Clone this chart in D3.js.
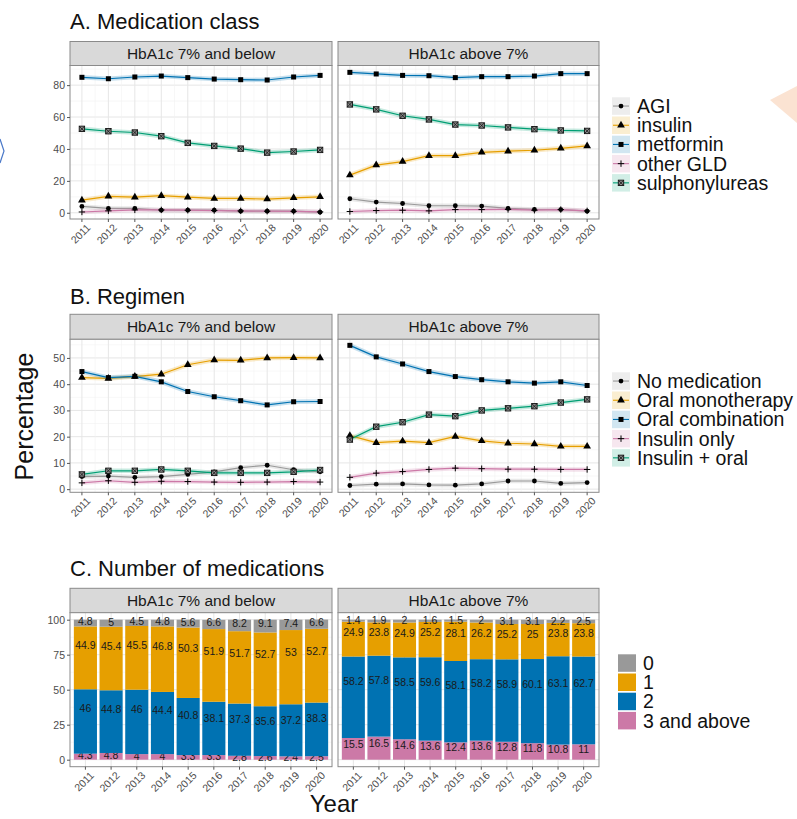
<!DOCTYPE html>
<html>
<head>
<meta charset="utf-8">
<script src="https://cdn.jsdelivr.net/npm/d3@7/dist/d3.min.js"></script>
<style>
  body { margin: 0; background: #fff; }
  svg { font-family: "Liberation Sans", Arial, Helvetica, sans-serif; }
</style>
</head>
<body>
<svg width="797" height="819"></svg>
<script>
const years = [2011, 2012, 2013, 2014, 2015, 2016, 2017, 2018, 2019, 2020];
const facets = ["HbA1c 7% and below", "HbA1c above 7%"];

// A. medication class (left = 7% and below, right = above 7%)
const classNames = ["AGI", "insulin", "metformin", "other GLD", "sulphonylureas"];
const agiLow = [4.0, 2.7, 2.7, 1.6, 1.6, 1.6, 1.0, 1.0, 1.0, 0.4];
const agiHigh = [8.8, 6.7, 5.8, 4.4, 4.4, 4.2, 2.7, 2.1, 2.0, 1.0];
const insulinLow = [7.9, 10.3, 9.8, 10.7, 9.8, 9.0, 9.0, 8.6, 9.4, 10.0];
const insulinHigh = [23.6, 29.9, 32.1, 35.8, 35.8, 37.9, 38.6, 39.2, 40.4, 41.9];
const metforminLow = [84.9, 84.0, 85.1, 85.7, 84.7, 83.8, 83.4, 83.2, 85.1, 86.1];
const metforminHigh = [88.0, 87.0, 86.1, 85.9, 84.7, 85.3, 85.3, 85.7, 87.2, 87.2];
const otherLow = [0.5, 1.2, 1.8, 1.8, 1.6, 1.4, 1.2, 1.0, 0.9, 0.6];
const otherHigh = [0.8, 1.4, 1.6, 1.2, 2.0, 2.0, 2.1, 1.6, 2.0, 1.2];
const sulphLow = [52.6, 51.1, 50.3, 48.0, 43.8, 41.9, 40.2, 37.7, 38.4, 39.4];
const sulphHigh = [67.9, 64.8, 60.8, 58.5, 55.3, 54.7, 53.5, 52.4, 51.6, 51.3];

// B. regimen
const regimenNames = ["No medication", "Oral monotherapy", "Oral combination", "Insulin only", "Insulin + oral"];
const noMedLow = [4.8, 5.0, 4.5, 4.8, 5.6, 6.6, 8.2, 9.1, 7.4, 6.6];
const noMedHigh = [1.4, 1.9, 2.0, 1.6, 1.5, 2.0, 3.1, 3.1, 2.2, 2.5];
const monoLow = [42.5, 42.2, 42.9, 43.8, 47.4, 49.2, 49.1, 50.0, 50.1, 50.0];
const monoHigh = [20.4, 17.7, 18.3, 17.7, 20.1, 18.4, 17.5, 17.2, 16.3, 16.3];
const comboLow = [44.8, 42.5, 43.0, 40.9, 37.2, 35.2, 33.7, 32.1, 33.3, 33.4];
const comboHigh = [54.8, 50.4, 47.7, 44.8, 42.9, 41.7, 40.9, 40.4, 40.9, 39.5];
const insOnlyLow = [2.4, 3.2, 2.6, 3.0, 2.9, 2.7, 2.6, 2.7, 2.9, 2.7];
const insOnlyHigh = [4.5, 6.1, 6.7, 7.5, 8.0, 7.8, 7.6, 7.6, 7.5, 7.5];
const insOralLow = [5.6, 7.0, 7.0, 7.5, 7.0, 6.2, 6.2, 6.2, 6.6, 7.3];
const insOralHigh = [18.9, 23.8, 25.5, 28.4, 27.8, 30.0, 30.8, 31.6, 33.0, 34.2];

// C. number of medications
const countNames = ["0", "1", "2", "3 and above"];
const zeroLow = [4.8, 5, 4.5, 4.8, 5.6, 6.6, 8.2, 9.1, 7.4, 6.6];
const oneLow = [44.9, 45.4, 45.5, 46.8, 50.3, 51.9, 51.7, 52.7, 53, 52.7];
const twoLow = [46, 44.8, 46, 44.4, 40.8, 38.1, 37.3, 35.6, 37.2, 38.3];
const threeLow = [4.3, 4.8, 4, 4, 3.3, 3.3, 2.8, 2.6, 2.4, 2.5];
const zeroHigh = [1.4, 1.9, 2, 1.6, 1.5, 2, 3.1, 3.1, 2.2, 2.5];
const oneHigh = [24.9, 23.8, 24.9, 25.2, 28.1, 26.2, 25.2, 25, 23.8, 23.8];
const twoHigh = [58.2, 57.8, 58.5, 59.6, 58.1, 58.2, 58.9, 60.1, 63.1, 62.7];
const threeHigh = [15.5, 16.5, 14.6, 13.6, 12.4, 13.6, 12.8, 11.8, 10.8, 11];

const lineColors = ["#999999", "#E69F00", "#0072B2", "#CC79A7", "#009E73"];
const shapes = ["circle", "triangle", "square", "plus", "squarex"];
const barColors = ["#999999", "#E69F00", "#0072B2", "#CC79A7"];

const svg = d3.select("svg");
const panelX = [[70, 332], [338, 599]];
const textCol = "#1a1a1a";
const axisCol = "#4d4d4d";

// page decorations from the slide behind the figure
svg.append("path").attr("d", "M0,139 L4,151 L0,163").attr("fill", "none")
  .attr("stroke", "#4a78c8").attr("stroke-width", 1.2);
svg.append("path").attr("d", "M797,86 L770,100 L797,123 Z").attr("fill", "#fbe3d2");

function drawShape(g, shape, x, y) {
  if (shape === "circle") {
    g.append("circle").attr("cx", x).attr("cy", y).attr("r", 2.4).attr("fill", "#000");
  } else if (shape === "triangle") {
    g.append("path").attr("d", d3.symbol(d3.symbolTriangle, 26)())
      .attr("transform", `translate(${x},${y})`).attr("fill", "#000");
  } else if (shape === "square") {
    g.append("rect").attr("x", x - 2.5).attr("y", y - 2.5).attr("width", 5).attr("height", 5).attr("fill", "#000");
  } else if (shape === "plus") {
    g.append("path").attr("d", `M${x - 3.2},${y}H${x + 3.2}M${x},${y - 3.2}V${y + 3.2}`)
      .attr("stroke", "#000").attr("stroke-width", 1);
  } else {
    g.append("rect").attr("x", x - 2.7).attr("y", y - 2.7).attr("width", 5.4).attr("height", 5.4)
      .attr("fill", "#8a8a8a").attr("stroke", "#111").attr("stroke-width", 0.9);
    g.append("path").attr("d", `M${x - 2.7},${y - 2.7}L${x + 2.7},${y + 2.7}M${x + 2.7},${y - 2.7}L${x - 2.7},${y + 2.7}`)
      .attr("stroke", "#111").attr("stroke-width", 0.8);
  }
}

function frame(cfg, i, y) {
  const [x0, x1] = panelX[i];
  // strip
  svg.append("rect").attr("x", x0).attr("y", cfg.stripTop).attr("width", x1 - x0)
    .attr("height", cfg.plotTop - cfg.stripTop).attr("fill", "#d9d9d9").attr("stroke", "#8a8a8a").attr("stroke-width", 1);
  svg.append("text").attr("x", (x0 + x1) / 2).attr("y", (cfg.stripTop + cfg.plotTop) / 2)
    .attr("dy", "0.36em").attr("text-anchor", "middle").attr("font-size", 15.5).attr("fill", textCol)
    .text(facets[i]);
  svg.append("rect").attr("x", x0).attr("y", cfg.plotTop).attr("width", x1 - x0)
    .attr("height", cfg.plotBottom - cfg.plotTop).attr("fill", "#fff");
  const grid = svg.append("g");
  grid.selectAll(".minor").data(cfg.yMinor).enter().append("line")
    .attr("x1", x0).attr("x2", x1).attr("y1", d => y(d)).attr("y2", d => y(d))
    .attr("stroke", "#f2f2f2").attr("stroke-width", 0.6);
  grid.selectAll(".major").data(cfg.yTicks).enter().append("line")
    .attr("x1", x0).attr("x2", x1).attr("y1", d => y(d)).attr("y2", d => y(d))
    .attr("stroke", "#e6e6e6").attr("stroke-width", 1);
  return grid;
}

function border(cfg, i) {
  const [x0, x1] = panelX[i];
  svg.append("rect").attr("x", x0).attr("y", cfg.plotTop).attr("width", x1 - x0)
    .attr("height", cfg.plotBottom - cfg.plotTop).attr("fill", "none").attr("stroke", "#8a8a8a").attr("stroke-width", 1);
}

function yAxis(cfg, y) {
  const x0 = panelX[0][0];
  const g = svg.append("g").attr("transform", `translate(${x0},0)`);
  g.call(d3.axisLeft(y).tickValues(cfg.yTicks).tickSize(3).tickPadding(2));
  g.select(".domain").remove();
  g.selectAll(".tick line").attr("stroke", "#555");
  g.selectAll(".tick text").attr("font-size", 10.5).attr("fill", axisCol).attr("font-family", null);
}

function xTicks(positions, cfg) {
  positions.forEach(p => {
    svg.append("line").attr("x1", p.x).attr("x2", p.x).attr("y1", cfg.plotBottom).attr("y2", cfg.plotBottom + 3)
      .attr("stroke", "#555");
    svg.append("text").attr("transform", `translate(${p.x + 4},${cfg.plotBottom + 4}) rotate(-45)`)
      .attr("text-anchor", "end").attr("dy", "0.72em").attr("font-size", 10.5).attr("fill", axisCol)
      .text(p.label);
  });
}

function title(text, yBase) {
  svg.append("text").attr("x", 70).attr("y", yBase).attr("font-size", 22).attr("fill", "#111").text(text);
}

function lineLegend(names, top) {
  const lg = svg.append("g");
  names.forEach((name, k) => {
    const ky = top + k * 19.2;
    lg.append("rect").attr("x", 612).attr("y", ky).attr("width", 18).attr("height", 17.5)
      .attr("fill", lineColors[k]).attr("fill-opacity", 0.18);
    lg.append("line").attr("x1", 613).attr("x2", 629).attr("y1", ky + 8.75).attr("y2", ky + 8.75)
      .attr("stroke", lineColors[k]).attr("stroke-width", 1.1);
    drawShape(lg, shapes[k], 621, ky + 8.75);
    lg.append("text").attr("x", 637).attr("y", ky + 8.75).attr("dy", "0.36em")
      .attr("font-size", 19.5).attr("fill", "#111").text(name);
  });
}

function linePanel(cfg) {
  title(cfg.title, cfg.titleY);
  const y = d3.scaleLinear().domain(cfg.yDomain).range([cfg.plotBottom, cfg.plotTop]);
  const line = d3.line().x(d => d.x).y(d => d.y);
  cfg.data.forEach((seriesList, i) => {
    const [x0, x1] = panelX[i];
    const x = d3.scaleLinear().domain([2010.55, 2020.45]).range([x0, x1]);
    const grid = frame(cfg, i, y);
    grid.selectAll(".vminor").data(d3.range(2011.5, 2020, 1)).enter().append("line")
      .attr("x1", d => x(d)).attr("x2", d => x(d)).attr("y1", cfg.plotTop).attr("y2", cfg.plotBottom)
      .attr("stroke", "#f2f2f2").attr("stroke-width", 0.6);
    grid.selectAll(".vmajor").data(years).enter().append("line")
      .attr("x1", d => x(d)).attr("x2", d => x(d)).attr("y1", cfg.plotTop).attr("y2", cfg.plotBottom)
      .attr("stroke", "#e6e6e6").attr("stroke-width", 1);

    const g = svg.append("g");
    seriesList.forEach((vals, k) => {
      const pts = years.map((yr, j) => ({ x: x(yr), y: y(vals[j]) }));
      g.append("path").attr("d", line(pts)).attr("fill", "none").attr("stroke", lineColors[k])
        .attr("stroke-opacity", 0.22).attr("stroke-width", 4.5).attr("stroke-linejoin", "round");
      g.append("path").attr("d", line(pts)).attr("fill", "none").attr("stroke", lineColors[k])
        .attr("stroke-width", 1.2);
    });
    seriesList.forEach((vals, k) => {
      years.forEach((yr, j) => drawShape(g, shapes[k], x(yr), y(vals[j])));
    });
    border(cfg, i);
    xTicks(years.map(yr => ({ x: x(yr), label: yr })), cfg);
  });
  yAxis(cfg, y);
  lineLegend(cfg.names, cfg.legendTop);
}

linePanel({
  title: "A. Medication class", titleY: 29,
  stripTop: 41.5, plotTop: 65.5, plotBottom: 219,
  yDomain: [-3.9, 92.3], yTicks: [0, 20, 40, 60, 80], yMinor: [10, 30, 50, 70, 90],
  names: classNames, legendTop: 97.3,
  data: [
    [agiLow, insulinLow, metforminLow, otherLow, sulphLow],
    [agiHigh, insulinHigh, metforminHigh, otherHigh, sulphHigh]
  ]
});

linePanel({
  title: "B. Regimen", titleY: 303.5,
  stripTop: 314.3, plotTop: 339.3, plotBottom: 492.3,
  yDomain: [-1.2, 57.1], yTicks: [0, 10, 20, 30, 40, 50], yMinor: [5, 15, 25, 35, 45, 55],
  names: regimenNames, legendTop: 372.3,
  data: [
    [noMedLow, monoLow, comboLow, insOnlyLow, insOralLow],
    [noMedHigh, monoHigh, comboHigh, insOnlyHigh, insOralHigh]
  ]
});

// C. stacked bars
const cfgC = {
  stripTop: 588.3, plotTop: 612.7, plotBottom: 766.7,
  yTicks: [0, 25, 50, 75, 100], yMinor: [12.5, 37.5, 62.5, 87.5]
};
title("C. Number of medications", 576);
const yC = d3.scaleLinear().domain([-5, 105]).range([cfgC.plotBottom, cfgC.plotTop]);
const barData = [
  [zeroLow, oneLow, twoLow, threeLow],
  [zeroHigh, oneHigh, twoHigh, threeHigh]
];
barData.forEach((cols, i) => {
  const [x0, x1] = panelX[i];
  const x = d3.scalePoint().domain(years).range([x0, x1]).padding(0.6);
  const bw = x.step() * 0.9;
  const grid = frame(cfgC, i, yC);
  grid.selectAll(".vmajor").data(years).enter().append("line")
    .attr("x1", d => x(d)).attr("x2", d => x(d)).attr("y1", cfgC.plotTop).attr("y2", cfgC.plotBottom)
    .attr("stroke", "#e6e6e6").attr("stroke-width", 1);

  const rows = years.map((yr, j) => {
    const r = { year: yr };
    countNames.forEach((n, k) => { r[n] = cols[k][j]; });
    return r;
  });
  // stack from the bottom: 3 and above, 2, 1, 0
  const order = countNames.slice().reverse();
  const stacked = d3.stack().keys(order)(rows);
  const g = svg.append("g");
  stacked.forEach(layer => {
    const k = countNames.indexOf(layer.key);
    g.selectAll(null).data(layer).enter().append("rect")
      .attr("x", d => x(d.data.year) - bw / 2).attr("width", bw)
      .attr("y", d => yC(d[1])).attr("height", d => yC(d[0]) - yC(d[1]))
      .attr("fill", barColors[k]);
    g.selectAll(null).data(layer).enter().append("text")
      .attr("x", d => x(d.data.year)).attr("y", d => yC(d[0] + 0.7 * (d[1] - d[0])))
      .attr("dy", "0.36em").attr("text-anchor", "middle").attr("font-size", 10.5).attr("fill", textCol)
      .text(d => d.data[layer.key]);
  });
  border(cfgC, i);
  xTicks(years.map(yr => ({ x: x(yr), label: yr })), cfgC);
});
yAxis(cfgC, yC);

const lgC = svg.append("g");
countNames.forEach((n, k) => {
  const ky = 654.3 + k * 19.2;
  lgC.append("rect").attr("x", 618).attr("y", ky).attr("width", 18).attr("height", 17.5).attr("fill", barColors[k]);
  lgC.append("text").attr("x", 643).attr("y", ky + 8.75).attr("dy", "0.36em")
    .attr("font-size", 19.5).attr("fill", "#111").text(n);
});

// shared axis titles
svg.append("text").attr("transform", "translate(33,416.5) rotate(-90)").attr("text-anchor", "middle")
  .attr("font-size", 25).attr("fill", "#111").text("Percentage");
svg.append("text").attr("x", 334).attr("y", 812).attr("text-anchor", "middle")
  .attr("font-size", 24).attr("fill", "#111").text("Year");
</script>
</body>
</html>
